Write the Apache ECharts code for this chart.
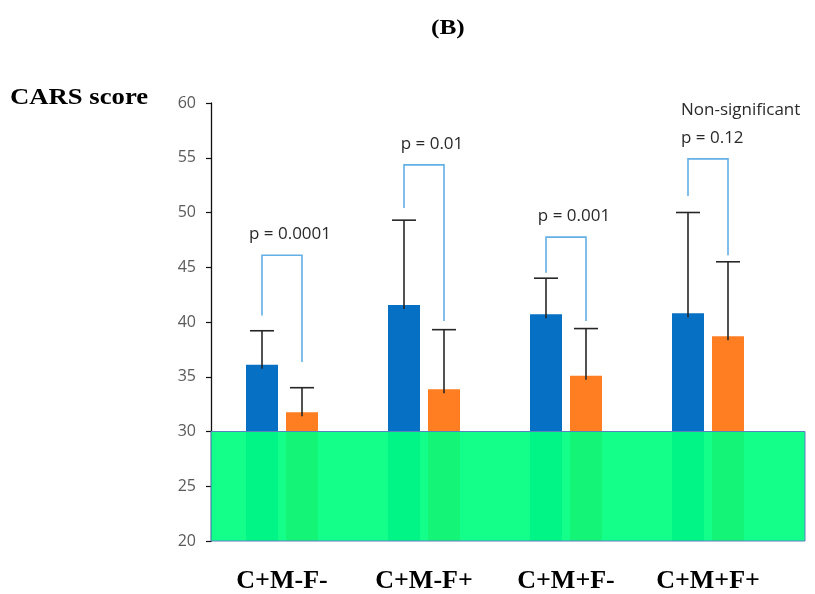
<!DOCTYPE html>
<html><head><meta charset="utf-8">
<script src="https://cdn.jsdelivr.net/npm/echarts@6/dist/echarts.min.js"></script>
<style>html,body{margin:0;padding:0;background:#fff}#c{width:815px;height:594px}</style>
</head><body><div id="c"></div>
<script>
var categories = ['C+M-F-', 'C+M-F+', 'C+M+F-', 'C+M+F+'];
var blueMean = [36.1, 41.55, 40.7, 40.8];
var blueErrTop = [39.2, 49.3, 44.0, 50.0];
var orangeMean = [31.75, 33.85, 35.1, 38.7];
var orangeErrTop = [34.0, 39.3, 39.4, 45.5];
// bracket: left leg bottom, top, right leg bottom
var bracketLeft = [40.6, 50.4, 44.5, 51.5];
var bracketTop = [46.1, 54.35, 47.75, 54.9];
var bracketRight = [36.35, 40.1, 40.1, 46.1];
var pLabels = ['p = 0.0001', 'p = 0.01', 'p = 0.001', 'Non-significant\np = 0.12'];
var yTicks = {min: 20, max: 60, interval: 5};
var thresholdBand = [20, 30];

var BAR_W = 32, BAR_GAP = 8;
var OFF = (BAR_W + BAR_GAP) / 2;

var errData = [];
for (var i = 0; i < categories.length; i++) {
  errData.push([i, blueMean[i], blueErrTop[i], -1]);
  errData.push([i, orangeMean[i], orangeErrTop[i], 1]);
}
var brData = [];
for (var j = 0; j < categories.length; j++) {
  brData.push([j, bracketLeft[j], bracketTop[j], bracketRight[j], pLabels[j]]);
}

var chart = echarts.init(document.getElementById('c'), null, {renderer: 'canvas'});
chart.setOption({
  animation: false,
  backgroundColor: '#fff',
  grid: [
    {left: 211, right: 36, top: 103, bottom: 53},
    {left: 211, right: 10, top: 103, bottom: 53}
  ],
  xAxis: [
    {type: 'category', data: categories, gridIndex: 0,
     axisLine: {show: false}, axisTick: {show: false},
     axisLabel: {margin: 27, color: '#000', fontFamily: 'Liberation Serif', fontWeight: 'bold', fontSize: 26}},
    {type: 'value', gridIndex: 1, min: 0, max: 1, show: false}
  ],
  yAxis: [
    {type: 'value', gridIndex: 0, min: yTicks.min, max: yTicks.max, interval: yTicks.interval,
     axisLine: {show: true, lineStyle: {color: '#111', width: 1.3}},
     axisTick: {show: true, length: 5, lineStyle: {color: '#111', width: 1.2}},
     splitLine: {show: false},
     axisLabel: {margin: 15, color: '#5a5a5a', fontFamily: 'Open Sans', fontSize: 16}},
    {type: 'value', gridIndex: 1, min: yTicks.min, max: yTicks.max, show: false}
  ],
  graphic: [
    {type: 'text', left: 10, top: 87, scaleX: 1.16,
     style: {text: 'CARS score', fontFamily: 'Liberation Serif', fontWeight: 'bold', fontSize: 23, fill: '#000'}},
    {type: 'text', left: 431, top: 17, scaleX: 1.15,
     style: {text: '(B)', fontFamily: 'Liberation Serif', fontWeight: 'bold', fontSize: 22, fill: '#000'}}
  ],
  series: [
    {type: 'bar', name: 'blue', data: blueMean, barWidth: BAR_W, barGap: (BAR_GAP / BAR_W * 100) + '%',
     itemStyle: {color: '#0670c4'}, z: 2},
    {type: 'bar', name: 'orange', data: orangeMean, barWidth: BAR_W,
     itemStyle: {color: '#ff7e22'}, z: 2},
    {type: 'custom', name: 'err', data: errData, z: 3,
     encode: {x: 0, y: [1, 2]},
     renderItem: function (params, api) {
       var c = api.value(0), side = api.value(3);
       var p0 = api.coord([c, api.value(1)]);
       var p1 = api.coord([c, api.value(2)]);
       var x = p0[0] + side * OFF;
       return {type: 'group', children: [
         {type: 'line', shape: {x1: x, y1: p0[1] + 4, x2: x, y2: p1[1]}, style: {stroke: '#262626', lineWidth: 1.6}},
         {type: 'line', shape: {x1: x - 12, y1: p1[1], x2: x + 12, y2: p1[1]}, style: {stroke: '#262626', lineWidth: 1.6}}
       ]};
     }},
    {type: 'custom', name: 'brackets', data: brData, z: 3,
     encode: {x: 0, y: [1, 2, 3]},
     renderItem: function (params, api) {
       var c = api.value(0);
       var pl = api.coord([c, api.value(1)]);
       var pt = api.coord([c, api.value(2)]);
       var pr = api.coord([c, api.value(3)]);
       var xl = pl[0] - OFF, xr = pl[0] + OFF;
       var label = pLabels[params.dataIndex];
       var multi = label.indexOf('\n') >= 0;
       return {type: 'group', children: [
         {type: 'polyline', shape: {points: [[xl, pl[1]], [xl, pt[1]], [xr, pt[1]], [xr, pr[1]]]},
          style: {stroke: '#62b0e6', lineWidth: 1.6, fill: null}},
         {type: 'text', x: multi ? xl - 7 : pl[0] + 8, y: pt[1] - 7,
          style: {text: label, fontFamily: 'Open Sans', fontSize: 17, fill: '#2a2a2a',
                  align: multi ? 'left' : 'center', verticalAlign: 'bottom', lineHeight: 28}}
       ]};
     }},
    {type: 'line', name: 'band', xAxisIndex: 1, yAxisIndex: 1, data: [], z: 10,
     markArea: {silent: true, z: 10,
       itemStyle: {color: 'rgba(0,255,128,0.92)', borderColor: '#5a80c0', borderWidth: 1, opacity: 1},
       data: [[{yAxis: thresholdBand[0]}, {yAxis: thresholdBand[1]}]]}}
  ]
});
</script></body></html>
